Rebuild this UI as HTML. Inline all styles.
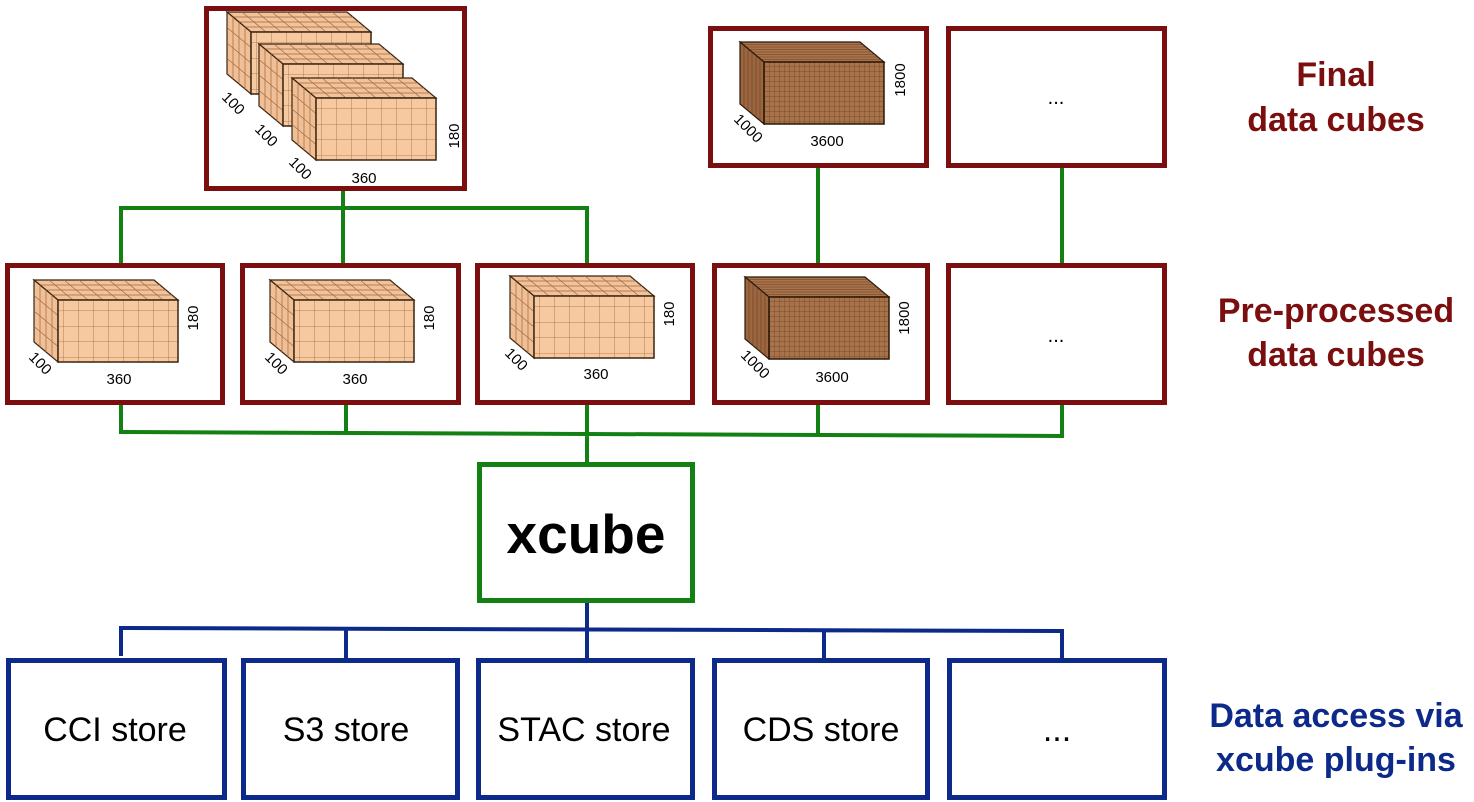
<!DOCTYPE html>
<html><head><meta charset="utf-8"><style>
html,body{margin:0;padding:0;background:#fff;}
svg{display:block;font-family:"Liberation Sans",sans-serif;}
</style></head><body>
<svg width="1474" height="802" viewBox="0 0 1474 802" xmlns="http://www.w3.org/2000/svg">
<defs>
<pattern id="gl" width="15" height="15.5" patternUnits="userSpaceOnUse">
<rect width="15" height="15.5" fill="#f7c9a1"/>
<path d="M15 0V15.5M0 15.5H15" stroke="#a06a40" stroke-width="0.8"/>
</pattern>
<pattern id="gd" width="5" height="5" patternUnits="userSpaceOnUse">
<rect width="5" height="5" fill="#a8724a"/>
<path d="M5 0V5M0 5H5" stroke="#6b4024" stroke-width="0.7"/>
</pattern>
<symbol id="cl" overflow="visible">
<polygon points="0,0 120,0 144,20 24,20" fill="#f2c29a" stroke="#3a2410" stroke-width="1.2"/>
<path d="M6,5H126M12,10H132M18,15H138 M15,0L39,20M30,0L54,20M45,0L69,20M60,0L84,20M75,0L99,20M90,0L114,20M105,0L129,20" stroke="#a06a40" stroke-width="0.7" fill="none"/>
<polygon points="0,0 24,20 24,82 0,62" fill="#f0bf95" stroke="#3a2410" stroke-width="1.2"/>
<path d="M6,5V67M12,10V72M18,15V77 M0,15.5L24,35.5M0,31L24,51M0,46.5L24,66.5" stroke="#a06a40" stroke-width="0.7" fill="none"/>
<rect x="24" y="20" width="120" height="62" fill="url(#gl)" stroke="#3a2410" stroke-width="1.5"/>
</symbol>
<symbol id="cd" overflow="visible">
<polygon points="0,0 120,0 144,20 24,20" fill="#a8724a" stroke="#2a1808" stroke-width="1.2"/>
<path d="M3,2.5H123M6,5H126M9,7.5H129M12,10H132M15,12.5H135M18,15H138M21,17.5H141" stroke="#6b4024" stroke-width="0.6" fill="none"/>
<polygon points="0,0 24,20 24,82 0,62" fill="#9c6640" stroke="#2a1808" stroke-width="1.2"/>
<path d="M4,3.3V65M8,6.7V69M12,10V72M16,13.3V75M20,16.7V79" stroke="#6b4024" stroke-width="0.6" fill="none"/>
<rect x="24" y="20" width="120" height="62" fill="url(#gd)" stroke="#2a1808" stroke-width="1.5"/>
</symbol>
</defs>

<g stroke="#138013" stroke-width="4" fill="none">
<path d="M343,189V208M121,263V208H587V263M343,208V263"/>
<path d="M818,166V263M1062,166V263"/>
<path d="M121,403V432L1062,436V403M346,403V432M587,403V462M818,403V435"/>
</g>
<g stroke="#0d2a8a" stroke-width="4" fill="none">
<path d="M587,601V658M121,656V628L1062,631V658M346,628V658M824,630V658"/>
</g>

<g fill="none" stroke="#7b0f10" stroke-width="5">
<rect x="206.5" y="8.5" width="258" height="180"/>
<rect x="710.5" y="28.5" width="216" height="137"/>
<rect x="948.5" y="28.5" width="216" height="137"/>
<rect x="7.5" y="265.5" width="215" height="137"/>
<rect x="242.5" y="265.5" width="216" height="137"/>
<rect x="477.5" y="265.5" width="215" height="137"/>
<rect x="714.5" y="265.5" width="213" height="137"/>
<rect x="948.5" y="265.5" width="216" height="137"/>
</g>
<rect x="479.5" y="464.5" width="213" height="136" fill="none" stroke="#138013" stroke-width="5"/>
<text x="586" y="553" font-size="55" font-weight="bold" text-anchor="middle" fill="#000">xcube</text>

<g fill="none" stroke="#0d2a8a" stroke-width="5">
<rect x="8.5" y="660.5" width="216" height="137"/>
<rect x="243.5" y="660.5" width="214" height="137"/>
<rect x="478.5" y="660.5" width="214" height="137"/>
<rect x="714.5" y="660.5" width="213" height="137"/>
<rect x="949.5" y="660.5" width="215" height="137"/>
</g>
<g font-size="34" text-anchor="middle" fill="#000">
<text x="115" y="741">CCI store</text>
<text x="346" y="741">S3 store</text>
<text x="584" y="741">STAC store</text>
<text x="821" y="741">CDS store</text>
<text x="1057" y="741">...</text>
</g>

<use href="#cl" x="227" y="12"/>
<use href="#cl" x="259" y="44"/>
<use href="#cl" x="292" y="78"/>
<g font-size="15" fill="#000">
<text x="364" y="183" text-anchor="middle">360</text>
<text transform="translate(459,136) rotate(-90)" text-anchor="middle">180</text>
<text transform="translate(221,98) rotate(45)">100</text>
<text transform="translate(254,130) rotate(45)">100</text>
<text transform="translate(288,163) rotate(45)">100</text>
</g>
<use href="#cd" x="740" y="42"/>
<g font-size="15" fill="#000">
<text x="827" y="146" text-anchor="middle">3600</text>
<text transform="translate(905,80) rotate(-90)" text-anchor="middle">1800</text>
<text transform="translate(733,120) rotate(45)">1000</text>
</g>
<text x="1056" y="104" font-size="20" text-anchor="middle">...</text>
<text x="1056" y="342" font-size="20" text-anchor="middle">...</text>

<use href="#cl" x="34" y="280"/>
<use href="#cl" x="270" y="280"/>
<use href="#cl" x="510" y="276"/>
<use href="#cd" x="745" y="277"/>
<g font-size="15" fill="#000">
<text x="119" y="384" text-anchor="middle">360</text>
<text transform="translate(198,318) rotate(-90)" text-anchor="middle">180</text>
<text transform="translate(28,358) rotate(45)">100</text>
<text x="355" y="384" text-anchor="middle">360</text>
<text transform="translate(434,318) rotate(-90)" text-anchor="middle">180</text>
<text transform="translate(264,358) rotate(45)">100</text>
<text x="596" y="379" text-anchor="middle">360</text>
<text transform="translate(674,314) rotate(-90)" text-anchor="middle">180</text>
<text transform="translate(504,354) rotate(45)">100</text>
<text x="832" y="382" text-anchor="middle">3600</text>
<text transform="translate(909,318) rotate(-90)" text-anchor="middle">1800</text>
<text transform="translate(740,356) rotate(45)">1000</text>
</g>

<g font-size="34" font-weight="bold" text-anchor="middle">
<text x="1336" y="86" fill="#7b0f10">Final</text>
<text x="1336" y="131" fill="#7b0f10">data cubes</text>
<text x="1336" y="322" fill="#7b0f10">Pre-processed</text>
<text x="1336" y="366" fill="#7b0f10">data cubes</text>
<text x="1336" y="727" fill="#0d2a8a">Data access via</text>
<text x="1336" y="771" fill="#0d2a8a">xcube plug-ins</text>
</g>
</svg>
</body></html>
